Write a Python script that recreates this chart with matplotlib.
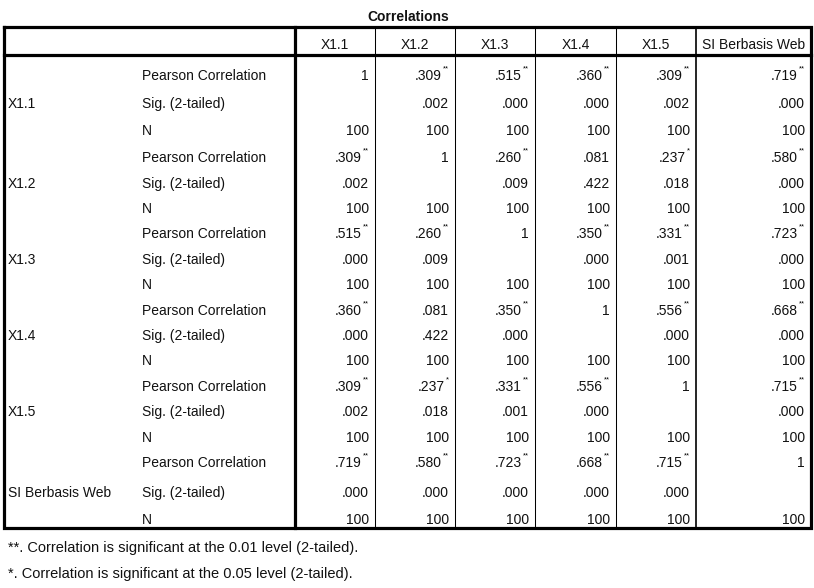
import matplotlib
matplotlib.use("Agg")
import matplotlib.pyplot as plt

# ---------------- data ----------------
title = "Correlations"
variables = ["X1.1", "X1.2", "X1.3", "X1.4", "X1.5", "SI Berbasis Web"]
stat_labels = ["Pearson Correlation", "Sig. (2-tailed)", "N"]

pearson = [
    [1, .309, .515, .360, .309, .719],
    [.309, 1, .260, .081, .237, .580],
    [.515, .260, 1, .350, .331, .723],
    [.360, .081, .350, 1, .556, .668],
    [.309, .237, .331, .556, 1, .715],
    [.719, .580, .723, .668, .715, 1],
]
sig = [
    [None, .002, .000, .000, .002, .000],
    [.002, None, .009, .422, .018, .000],
    [.000, .009, None, .000, .001, .000],
    [.000, .422, .000, None, .000, .000],
    [.002, .018, .001, .000, None, .000],
    [.000, .000, .000, .000, .000, None],
]
n_obs = [
    [100, 100, 100, 100, 100, 100],
    [100, 100, 100, 100, 100, 100],
    [100, 100, 100, 100, 100, 100],
    [100, 100, 100, 100, 100, 100],
    [100, 100, 100, 100, 100, 100],
    [100, 100, 100, 100, 100, 100],
]
footnotes = [
    "**. Correlation is significant at the 0.01 level (2-tailed).",
    "*. Correlation is significant at the 0.05 level (2-tailed).",
]

# ---------------- layout (pixels) ----------------
W, H = 814, 588
col_edges = [4, 295, 375, 455, 535, 616, 696, 811]
top_y, header_y, bottom_y = 26.5, 55, 527.5
row_y = [76, 104, 131, 158, 184, 209, 234, 260, 285, 311, 336, 361,
         387, 412, 438, 463, 493, 520]
FONT = "Liberation Sans"
FS = 10

fig = plt.figure(figsize=(W / 100, H / 100), dpi=100)
ax = fig.add_axes([0, 0, 1, 1])
ax.set_xlim(0, W)
ax.set_ylim(H, 0)
ax.axis("off")

thick = 2.3
thin = 0.75
# outer border + thick separators
ax.plot([col_edges[0], col_edges[-1], col_edges[-1], col_edges[0], col_edges[0]],
        [top_y, top_y, bottom_y, bottom_y, top_y], color="black", lw=thick,
        solid_joinstyle="miter", solid_capstyle="projecting")
ax.plot([col_edges[0], col_edges[-1]], [header_y, header_y], color="black", lw=thick,
        solid_capstyle="projecting")
ax.plot([col_edges[1], col_edges[1]], [top_y, bottom_y], color="black", lw=thick)
for x in col_edges[2:-1]:
    ax.plot([x, x], [top_y, bottom_y], color="black", lw=thin if x != 696 else 1.2)

txt = dict(fontfamily=FONT, fontsize=FS, color="#111111")

# title
ax.text(408, 17, title, ha="center", va="center", fontweight="bold", **txt)

# column headers
for j, v in enumerate(variables):
    xc = (col_edges[j + 1] + col_edges[j + 2]) / 2
    ax.text(xc, 45, v, ha="center", va="center", **txt)


def fmt(v):
    if v == 1:
        return "1"
    return ("%.3f" % v).lstrip("0")


def stars(p):
    if p is None:
        return ""
    if p < 0.01:
        return "**"
    if p < 0.05:
        return "*"
    return ""


for i, v in enumerate(variables):
    ax.text(8, row_y[3 * i + 1], v, ha="left", va="center", **txt)
    for s, lab in enumerate(stat_labels):
        ax.text(142, row_y[3 * i + s], lab, ha="left", va="center", **txt)
    for j in range(len(variables)):
        xr = col_edges[j + 2] - 6
        # Pearson
        y = row_y[3 * i]
        st = stars(sig[i][j])
        if st:
            sw = 7 if st == "**" else 4
            ax.text(xr, y - 7.5, st, ha="right", va="center", fontfamily=FONT,
                    fontsize=5.5, color="black")
            ax.text(xr - sw, y, fmt(pearson[i][j]), ha="right", va="center", **txt)
        else:
            ax.text(xr, y, fmt(pearson[i][j]), ha="right", va="center", **txt)
        # Sig
        if sig[i][j] is not None:
            ax.text(xr, row_y[3 * i + 1], ("%.3f" % sig[i][j]).lstrip("0"),
                    ha="right", va="center", **txt)
        # N
        ax.text(xr, row_y[3 * i + 2], str(n_obs[i][j]), ha="right", va="center", **txt)

for k, f in enumerate(footnotes):
    ax.text(8, 548 + 26 * k, f, ha="left", va="center", fontfamily=FONT,
            fontsize=10.5, color="#111111")

fig.savefig("out.png", dpi=100, facecolor="white")
